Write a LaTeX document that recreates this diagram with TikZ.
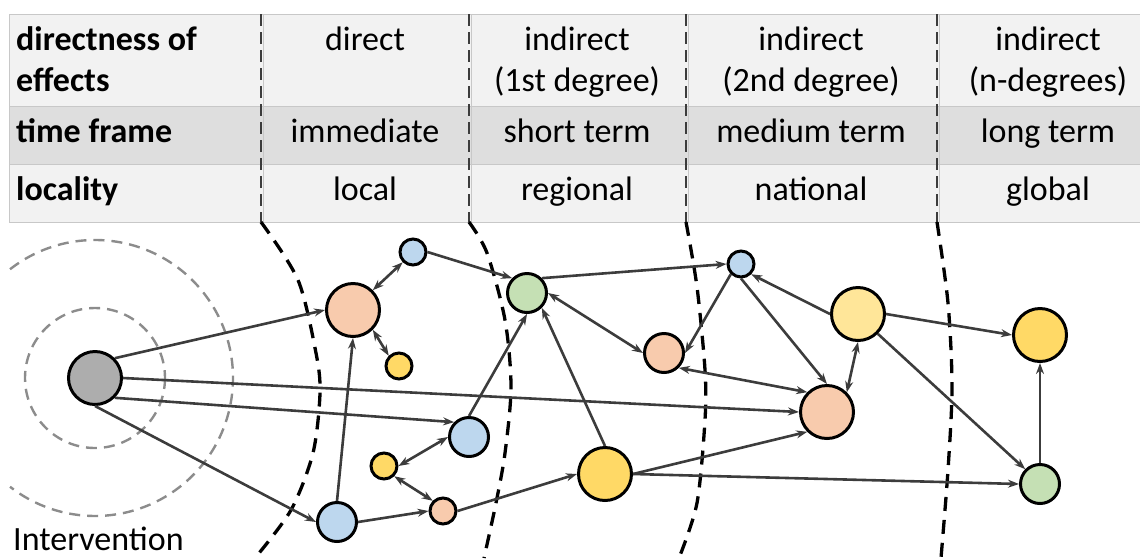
\documentclass[tikz,border=0pt]{standalone}
\usepackage{fontspec}
\setmainfont{Carlito}
\usetikzlibrary{arrows.meta}

\definecolor{salmon}{HTML}{F8CBAD}
\definecolor{skyblue}{HTML}{BDD7EE}
\definecolor{leaf}{HTML}{C5E0B4}
\definecolor{gold}{HTML}{FFD966}
\definecolor{pale}{HTML}{FFE699}
\definecolor{stone}{HTML}{ADADAD}
\definecolor{edgegray}{HTML}{3C3C3C}
\definecolor{rowlight}{HTML}{F2F2F2}
\definecolor{rowdark}{HTML}{DEDEDE}
\definecolor{rulegray}{HTML}{C8C8C8}
\definecolor{halogray}{HTML}{8C8C8C}

\begin{document}
\begin{tikzpicture}[x=1pt, y=-1pt,
  >={Stealth[length=11pt,width=8pt]},
  ball/.style={circle, draw=black, line width=3pt, inner sep=0pt},
  bignode/.style={ball, minimum size=53pt},
  midnode/.style={ball, minimum size=39pt},
  smallnode/.style={ball, minimum size=26pt},
  link/.style={draw=edgegray, line width=2.6pt},
  cell/.style={anchor=base, inner sep=0pt, align=center, font=\fontsize{34}{41}\selectfont},
  rowhead/.style={anchor=base west, inner sep=0pt, align=left, font=\fontsize{34}{41}\selectfont\bfseries},
  frontier/.style={black, line width=3.3pt, dash pattern=on 14pt off 9pt},
  divider/.style={edgegray, line width=2.3pt, dash pattern=on 12pt off 6pt},
  halo/.style={halogray, line width=2.4pt, dash pattern=on 11pt off 7pt}]
\useasboundingbox (0,0) rectangle (1140,558);

\fill[rowlight] (9,14) rectangle (1140,106);
\fill[rowdark] (9,106) rectangle (1140,164);
\fill[rowlight] (9,164) rectangle (1140,222);
\foreach \y in {14,106,164,222}
  \draw[rulegray, line width=1pt] (9,\y) -- (1140,\y);
\draw[rulegray, line width=1pt] (9,14) -- (9,222);
\foreach \x in {261,469,686,937} {
  \draw[rulegray, line width=1pt] (\x+2,14) -- (\x+2,222);
  \draw[divider] (\x,14) -- (\x,222);
}

\node[rowhead] (dirlab) at (16,91) {directness of\\effects};
\node[rowhead] (timelab) at (16,142) {time frame};
\node[rowhead] (loclab) at (16,200) {locality};
\node[cell] (dir1) at (365,50) {direct};
\node[cell] (dir2) at (577,91) {indirect\\(1st degree)};
\node[cell] (dir3) at (811,91) {indirect\\(2nd degree)};
\node[cell] (dir4) at (1048,91) {indirect\\(n-degrees)};
\node[cell] (time1) at (365,142) {immediate};
\node[cell] (time2) at (577,142) {short term};
\node[cell] (time3) at (811,142) {medium term};
\node[cell] (time4) at (1048,142) {long term};
\node[cell] (loc1) at (365,200) {local};
\node[cell] (loc2) at (577,200) {regional};
\node[cell] (loc3) at (811,200) {national};
\node[cell] (loc4) at (1048,200) {global};

\draw[frontier] plot[smooth] coordinates {(261,222) (298,280) (316,353) (320,393) (313,453) (291,510) (255,558)};
\draw[frontier] plot[smooth] coordinates {(469,222) (487,253) (505,320) (511,387) (505,453) (496,503) (484,558)};
\draw[frontier] plot[smooth] coordinates {(686,222) (697,287) (705,370) (705,420) (697,503) (679,558)};
\draw[frontier] plot[smooth] coordinates {(937,222) (948,303) (952,387) (948,470) (941,558)};

\node[bignode, fill=stone] (int) at (95,378) {};
\draw[halo] (int.center) circle[radius=70];
\draw[halo] (int.center) ++(-128:138) arc[start angle=-128, end angle=128, radius=138];
\node[anchor=base west, inner sep=0pt, font=\fontsize{34}{41}\selectfont] (intlab) at (13,550) {Intervention};

\node[bignode, fill=salmon] (or1) at (353,310) {};
\node[smallnode, fill=skyblue] (bl1) at (413,252) {};
\node[smallnode, fill=gold] (ye1) at (399,366) {};
\node[midnode, fill=leaf] (gr1) at (527,293) {};
\node[midnode, fill=skyblue] (bl2) at (469,437) {};
\node[smallnode, fill=gold] (ye2) at (384,466) {};
\node[midnode, fill=skyblue] (bl3) at (337,522) {};
\node[smallnode, fill=salmon] (or2) at (443,511) {};
\node[midnode, fill=salmon] (or3) at (664,353) {};
\node[smallnode, fill=skyblue] (bl4) at (741,264) {};
\node[bignode, fill=pale] (ye3) at (858,314) {};
\node[bignode, fill=salmon] (or4) at (827,412) {};
\node[bignode, fill=gold] (ye4) at (605,474) {};
\node[bignode, fill=gold] (ye5) at (1040,335) {};
\node[midnode, fill=leaf] (gr2) at (1040,484) {};

\draw[link, ->] (int.north east) -- (or1.west);
\draw[link, ->] (int.east) -- (or4.west);
\draw[link, ->] (int.south east) -- (bl2.north west);
\draw[link, ->] (int.south) -- (bl3.west);
\draw[link, <->] (or1.north east) -- (bl1.south west);
\draw[link, <->] (or1.south east) -- (ye1.north west);
\draw[link, ->] (bl3.north) -- (or1.south);
\draw[link, ->] (bl1.east) -- (gr1.north west);
\draw[link, <->] (ye2.east) -- (bl2.west);
\draw[link, <->] (ye2.south east) -- (or2.north west);
\draw[link, ->] (bl3.east) -- (or2.west);
\draw[link, ->] (or2.east) -- (ye4.west);
\draw[link, ->] (bl2.north) -- (gr1.south);
\draw[link, ->] (ye4.north) -- (gr1.south east);
\draw[link, ->] (gr1.north east) -- (bl4.west);
\draw[link, <->] (gr1.east) -- (or3.west);
\draw[link, ->] (bl4.south west) -- (or3.east);
\draw[link, ->] (bl4.south) -- (or4.north);
\draw[link, ->] (ye3.west) -- (bl4.south east);
\draw[link, <->] (or3.south east) -- (or4.north west);
\draw[link, <->] (or4.north east) -- (ye3.south);
\draw[link, ->] (ye4.east) -- (or4.south west);
\draw[link, ->] (ye4.east) -- (gr2.west);
\draw[link, ->] (ye3.east) -- (ye5.west);
\draw[link, ->] (ye3.south east) -- (gr2.north west);
\draw[link, ->] (gr2.north) -- (ye5.south);
\end{tikzpicture}
\end{document}
